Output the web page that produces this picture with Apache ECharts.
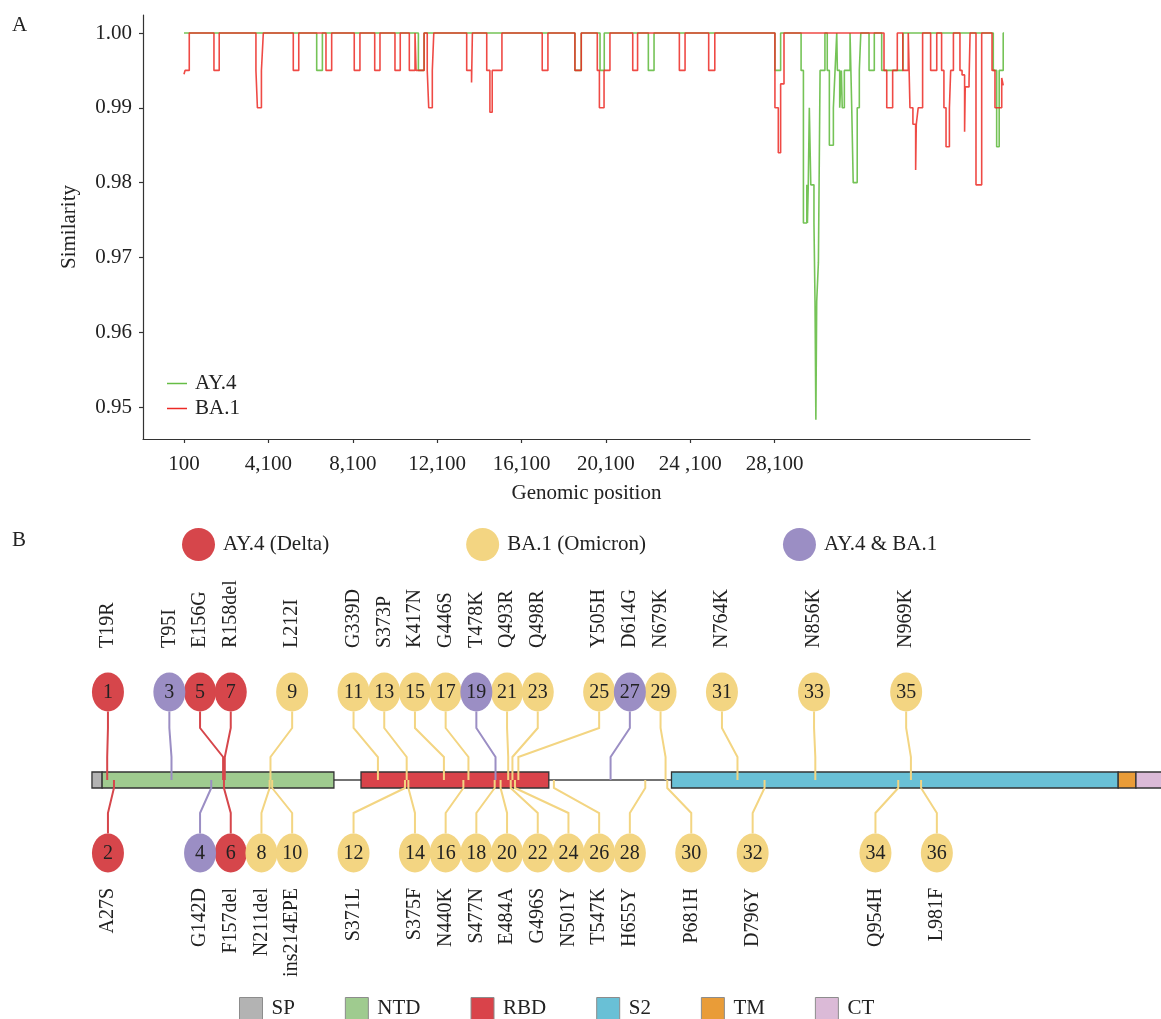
<!DOCTYPE html>
<html>
<head>
<meta charset="utf-8">
<script src="https://cdn.jsdelivr.net/npm/echarts@6/dist/echarts.min.js"></script>
<style>
  html, body { margin: 0; padding: 0; background: #fff; }
  #chart { width: 1161px; height: 1019px; }
</style>
</head>
<body>
<div id="chart"></div>
<script>
// ---------- Panel A: sliding-window similarity ----------
// Each pair is [window position, similarity]; the level holds until the next pair.
const ay4Similarity = [
  [100, 1],
  [6390, 0.995], [6660, 1],
  [11210, 0.995], [11480, 1],
  [18630, 0.995], [18930, 1],
  [19820, 0.995], [20020, 1],
  [22110, 0.995], [22380, 1],
  [28110, 0.995], [28380, 1],
  [29350, 0.995], [29460, 0.9746], [29620, 0.9797], [29650, 0.9746], [29690, 0.9797],
  [29740, 0.99], [29810, 0.9797], [29960, 0.9746], [30010, 0.9641], [30050, 0.9483],
  [30090, 0.9641], [30170, 0.9693], [30250, 0.995], [30480, 1],
  [30590, 0.995], [30690, 0.985], [30880, 0.99], [30960, 0.995], [31040, 1],
  [31070, 0.995], [31180, 0.99], [31260, 0.995], [31300, 0.99], [31400, 0.995], [31670, 1],
  [31750, 0.99], [31820, 0.98], [32010, 0.99], [32110, 0.995], [32180, 1],
  [32570, 0.995], [32820, 1],
  [33170, 0.995], [34180, 1],
  [38460, 0.995], [38620, 0.9848], [38740, 0.995], [38930, 1], [38970, 1]
];
const ba1Similarity = [
  [100, 0.9945], [150, 0.995], [350, 1],
  [1520, 0.995], [1770, 1],
  [3510, 0.995], [3580, 0.99], [3770, 0.995], [3860, 1],
  [5280, 0.995], [5540, 1],
  [6830, 0.995], [7100, 1],
  [8170, 0.995], [8440, 1],
  [9140, 0.995], [9390, 1],
  [10100, 0.995], [10350, 1],
  [10780, 0.995], [11050, 1],
  [11100, 0.995], [11480, 1],
  [11630, 0.995], [11700, 0.99], [11870, 0.995], [11940, 1],
  [13500, 0.995], [13730, 0.9934], [13770, 1],
  [14450, 0.995], [14600, 0.9894], [14710, 0.995], [15170, 1],
  [17080, 0.995], [17350, 1],
  [18630, 0.995], [18930, 1],
  [19690, 0.995], [19790, 0.99], [20010, 0.995], [20290, 1],
  [21370, 0.995], [21600, 1],
  [23580, 0.995], [23850, 1],
  [24970, 0.995], [25260, 1],
  [28110, 0.99], [28270, 0.984], [28380, 0.9932], [28540, 1],
  [33280, 0.995], [33410, 0.99], [33690, 0.995], [33910, 1],
  [34170, 0.995], [34430, 1],
  [34510, 0.99], [34650, 0.9878], [34780, 0.9817], [34810, 0.9878], [34900, 0.99], [35110, 1],
  [35490, 0.995], [35780, 1],
  [36010, 0.995], [36120, 0.99], [36220, 0.9848], [36380, 0.99], [36440, 0.995], [36570, 1],
  [36880, 0.995], [36980, 0.9944], [37100, 0.9868], [37130, 0.9928], [37310, 0.9935], [37360, 1],
  [37640, 0.9797], [37910, 1],
  [38400, 0.995], [38540, 0.99], [38860, 0.994], [38930, 0.993]
];
const positionTicks = [100, 4100, 8100, 12100, 16100, 20100, 24100, 28100];
const positionTickLabels = ['100', '4,100', '8,100', '12,100', '16,100', '20,100', '24 ,100', '28,100'];
const similarityTicks = [0.95, 0.96, 0.97, 0.98, 0.99, 1.00];

// ---------- Panel B: spike protein domains and mutations ----------
const domainNames = ['SP', 'NTD', 'RBD', 'S2', 'TM', 'CT'];
const domainStart = [1, 13, 319, 686, 1214, 1235];
const domainEnd   = [13, 287, 541, 1214, 1235, 1273];

const lineageNames = ['AY.4 (Delta)', 'BA.1 (Omicron)', 'AY.4 & BA.1'];
const mutationLabels = [
  'T19R', 'A27S', 'T95I', 'G142D', 'E156G', 'F157del', 'R158del', 'N211del', 'L212I',
  'ins214EPE', 'G339D', 'S371L', 'S373P', 'S375F', 'K417N', 'N440K', 'G446S', 'S477N',
  'T478K', 'E484A', 'Q493R', 'G496S', 'Q498R', 'N501Y', 'Y505H', 'T547K', 'D614G',
  'H655Y', 'N679K', 'P681H', 'N764K', 'D796Y', 'N856K', 'Q954H', 'N969K', 'L981F'
];
const mutationSites = [
  19, 27, 95, 142, 156, 157, 158, 211, 212, 214, 339, 371, 373, 375, 417, 440, 446, 477,
  478, 484, 493, 496, 498, 501, 505, 547, 614, 655, 679, 681, 764, 796, 856, 954, 969, 981
];
// 0 = AY.4 only, 1 = BA.1 only, 2 = shared
const mutationLineage = [
  0, 0, 2, 2, 0, 0, 0, 1, 1, 1, 1, 1, 1, 1, 1, 1, 1, 1,
  2, 1, 1, 1, 1, 1, 1, 1, 2, 1, 1, 1, 1, 1, 1, 1, 1, 1
];

// label layout: which evenly spaced slot each numbered bubble sits in
const labelSlots = [
  0, 0, 2, 3, 3, 4, 4, 5, 6, 6, 8, 8, 9, 10, 10, 11, 11, 12,
  12, 13, 13, 14, 14, 15, 16, 16, 17, 17, 18, 19, 20, 21, 23, 25, 26, 27
];

// ---------- styles / layout ----------
const FONT = "'Liberation Serif', 'Times New Roman', serif";
const TEXT = '#222';
const lineageColors = ['#d6464b', '#f3d582', '#9b8ec4'];
const domainColors = ['#b3b3b3', '#9fcb8f', '#d9434a', '#69c0d6', '#e99c38', '#dbbad7'];

const BAR_TOP = 772, BAR_BOTTOM = 788, BAR_MID = 780;
const TOP_CY = 692, BOT_CY = 853, RX = 16, RY = 19.5;
const TOP_BEND1 = 728, TOP_BEND2 = 757, BOT_BEND = 813;
const TOP_LABEL_BASE = 648, BOTTOM_LABEL_TOP = 888;
const FIRST_SLOT_SITE = 19.9;   // residue under the first bubble column
const SLOT_STEP_PX = 30.7;

function renderMutation(color) {
  return function (params, api) {
    const site = api.value(0);
    const i = api.value(1);
    const ax = api.coord([site, 0])[0];
    const cx = api.coord([FIRST_SLOT_SITE, 0])[0] + labelSlots[i] * SLOT_STEP_PX;
    const top = i % 2 === 0;
    const cy = top ? TOP_CY : BOT_CY;
    const pts = top
      ? [[cx, TOP_CY + RY], [cx, TOP_BEND1], [ax, TOP_BEND2], [ax, BAR_MID]]
      : [[ax, BAR_MID], [ax, BAR_BOTTOM], [cx, BOT_BEND], [cx, BOT_CY - RY]];
    return {
      type: 'group',
      children: [
        { type: 'polyline', shape: { points: pts }, style: { stroke: color, lineWidth: 2, fill: null } },
        { type: 'circle', x: cx, y: cy, scaleY: RY / RX, shape: { cx: 0, cy: 0, r: RX }, style: { fill: color } },
        { type: 'text', x: cx, y: cy + 1, style: { text: String(i + 1), fill: TEXT, font: '20px ' + FONT, textAlign: 'center', textVerticalAlign: 'middle' } },
        { type: 'text', x: cx, y: top ? TOP_LABEL_BASE : BOTTOM_LABEL_TOP, rotation: Math.PI / 2,
          style: { text: mutationLabels[i], fill: TEXT, font: '20px ' + FONT, textAlign: top ? 'left' : 'right', textVerticalAlign: 'middle' } }
      ]
    };
  };
}

const domainSeries = domainNames.map((name, d) => ({
  type: 'custom',
  name: name,
  xAxisIndex: 1, yAxisIndex: 1,
  z: 3,
  silent: true,
  itemStyle: { color: domainColors[d] },
  data: [[domainStart[d], domainEnd[d]]],
  renderItem: function (params, api) {
    const x0 = api.coord([api.value(0), 0])[0];
    const x1 = api.coord([api.value(1), 0])[0];
    return { type: 'rect', shape: { x: x0, y: BAR_TOP, width: x1 - x0, height: BAR_BOTTOM - BAR_TOP },
             style: { fill: domainColors[d], stroke: '#333', lineWidth: 1.3 } };
  }
}));

const backboneSeries = {
  type: 'custom',
  name: 'backbone',
  xAxisIndex: 1, yAxisIndex: 1,
  z: 2,
  silent: true,
  data: [[domainStart[0], domainEnd[domainEnd.length - 1]]],
  renderItem: function (params, api) {
    const x0 = api.coord([api.value(0), 0])[0];
    const x1 = api.coord([api.value(1), 0])[0];
    return { type: 'line', shape: { x1: x0, y1: BAR_MID, x2: x1, y2: BAR_MID }, style: { stroke: '#444', lineWidth: 1.5 } };
  }
};

const mutationSeries = lineageNames.map((name, g) => ({
  type: 'custom',
  name: name,
  xAxisIndex: 1, yAxisIndex: 1,
  z: 4,
  silent: true,
  itemStyle: { color: lineageColors[g] },
  data: mutationSites.map((s, i) => [s, i]).filter((d, i) => mutationLineage[i] === g),
  renderItem: renderMutation(lineageColors[g])
}));

const ELLIPSE = 'path://M50,0A50,50,0,1,1,50,100A50,50,0,1,1,50,0Z';

const option = {
  animation: false,
  textStyle: { fontFamily: FONT },
  grid: [
    { left: 143, top: 15, width: 887, height: 424, outerBoundsMode: 'none' },
    { left: 0, right: 0, top: 520, bottom: 0, outerBoundsMode: 'none' }
  ],
  xAxis: [
    {
      type: 'value', gridIndex: 0, min: -1843, max: 40200,
      name: 'Genomic position', nameLocation: 'middle', nameGap: 44,
      nameTextStyle: { fontFamily: FONT, fontSize: 21, color: TEXT },
      axisLine: { onZero: false, lineStyle: { color: '#333', width: 1.2 } },
      axisTick: { customValues: positionTicks, length: 4, lineStyle: { color: '#333', width: 1.2 } },
      axisLabel: {
        customValues: positionTicks, margin: 15,
        fontFamily: FONT, fontSize: 21, color: TEXT,
        formatter: v => positionTickLabels[positionTicks.indexOf(v)]
      },
      splitLine: { show: false }
    },
    { type: 'value', gridIndex: 1, min: -107.7, max: 1264.6, show: false }
  ],
  yAxis: [
    {
      type: 'value', gridIndex: 0, min: 0.94572, max: 1.00241,
      name: 'Similarity', nameLocation: 'middle', nameGap: 63,
      nameTextStyle: { fontFamily: FONT, fontSize: 21, color: TEXT },
      axisLine: { show: true, onZero: false, lineStyle: { color: '#333', width: 1.2 } },
      axisTick: { show: true, customValues: similarityTicks, length: 4, lineStyle: { color: '#333', width: 1.2 } },
      axisLabel: {
        customValues: similarityTicks, margin: 11,
        fontFamily: FONT, fontSize: 21, color: TEXT,
        formatter: v => v.toFixed(2)
      },
      splitLine: { show: false }
    },
    { type: 'value', gridIndex: 1, min: 0, max: 1, show: false }
  ],
  legend: [
    {
      data: ['AY.4', 'BA.1'], orient: 'vertical', left: 167, top: 373, padding: 0,
      icon: 'rect', itemWidth: 20, itemHeight: 1.5, itemGap: 4,
      textStyle: { fontFamily: FONT, fontSize: 21, color: TEXT, padding: [0, 0, 0, 3] }
    },
    {
      data: lineageNames, orient: 'horizontal', left: 182, top: 528, padding: 0,
      icon: ELLIPSE, itemWidth: 33, itemHeight: 37, itemGap: 137,
      itemStyle: { borderWidth: 0 },
      textStyle: { fontFamily: FONT, fontSize: 21, color: TEXT, padding: [0, 0, 0, 3] }
    },
    {
      data: domainNames, orient: 'horizontal', left: 239, top: 997, padding: 0,
      icon: 'rect', itemWidth: 23, itemHeight: 22, itemGap: 50,
      itemStyle: { borderColor: '#8c8c8c', borderWidth: 1 },
      textStyle: { fontFamily: FONT, fontSize: 21, color: TEXT, padding: [0, 0, 0, 4] }
    }
  ],
  graphic: [
    { type: 'text', left: 12, top: 15, style: { text: 'A', font: '21px ' + FONT, fill: TEXT } },
    { type: 'text', left: 12, top: 530, style: { text: 'B', font: '21px ' + FONT, fill: TEXT } }
  ],
  series: [
    {
      type: 'line', name: 'AY.4', xAxisIndex: 0, yAxisIndex: 0,
      step: 'end', showSymbol: false, symbol: 'none', z: 2,
      color: '#66bd45',
      lineStyle: { width: 1.6, color: '#66bd45', opacity: 0.9 },
      data: ay4Similarity
    },
    {
      type: 'line', name: 'BA.1', xAxisIndex: 0, yAxisIndex: 0,
      step: 'end', showSymbol: false, symbol: 'none', z: 3,
      color: '#ec2a25',
      lineStyle: { width: 1.6, color: '#ec2a25', opacity: 0.85 },
      data: ba1Similarity
    },
    backboneSeries,
    ...domainSeries,
    ...mutationSeries
  ]
};

const chart = echarts.init(document.getElementById('chart'));
chart.setOption(option);
</script>
</body>
</html>
